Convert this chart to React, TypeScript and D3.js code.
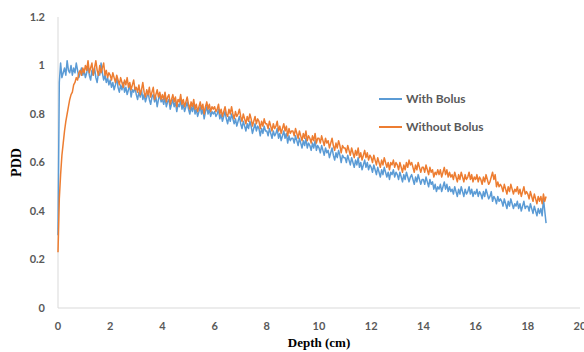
import * as d3 from "d3";

// depth step of the sampled curves (cm)
const depthStep = 0.05;

// one row per cm of depth
const withBolus = [
  0.30, 0.93, 1.01, 0.95, 0.97, 0.99, 0.96, 1.02, 0.98, 0.97, 1.00, 0.96, 0.99, 0.97, 1.01, 0.98, 0.95, 0.97, 0.99, 0.96,
  0.98, 0.95, 0.97, 1.00, 0.96, 0.94, 0.98, 0.96, 0.99, 0.95, 0.93, 0.97, 0.96, 1.01, 0.97, 0.94, 0.96, 0.93, 0.95, 0.92,
  0.94, 0.91, 0.93, 0.90, 0.92, 0.95, 0.91, 0.89, 0.92, 0.90, 0.93, 0.89, 0.91, 0.88, 0.90, 0.92, 0.87, 0.90, 0.89, 0.91,
  0.88, 0.86, 0.89, 0.87, 0.90, 0.86, 0.88, 0.85, 0.87, 0.89, 0.86, 0.84, 0.87, 0.88, 0.85, 0.87, 0.83, 0.86, 0.88, 0.85,
  0.86, 0.84, 0.87, 0.83, 0.85, 0.86, 0.82, 0.84, 0.86, 0.83, 0.85, 0.81, 0.84, 0.83, 0.86, 0.82, 0.84, 0.81, 0.83, 0.85,
  0.82, 0.80, 0.83, 0.81, 0.84, 0.80, 0.82, 0.79, 0.81, 0.83, 0.80, 0.82, 0.78, 0.81, 0.83, 0.80, 0.82, 0.79, 0.81, 0.80,
  0.81, 0.79, 0.80, 0.82, 0.78, 0.80, 0.77, 0.79, 0.81, 0.78, 0.76, 0.79, 0.77, 0.80, 0.78, 0.76, 0.78, 0.75, 0.77, 0.79,
  0.76, 0.74, 0.77, 0.75, 0.73, 0.76, 0.74, 0.77, 0.75, 0.72, 0.74, 0.76, 0.73, 0.75, 0.74, 0.71, 0.74, 0.72, 0.75, 0.73,
  0.73, 0.71, 0.74, 0.72, 0.70, 0.73, 0.71, 0.72, 0.74, 0.70, 0.72, 0.69, 0.71, 0.73, 0.70, 0.72, 0.68, 0.71, 0.69, 0.70,
  0.70, 0.68, 0.71, 0.69, 0.67, 0.70, 0.68, 0.66, 0.69, 0.67, 0.70, 0.66, 0.68, 0.67, 0.65, 0.68, 0.66, 0.69, 0.65, 0.67,
  0.66, 0.64, 0.67, 0.65, 0.63, 0.66, 0.64, 0.65, 0.62, 0.64, 0.66, 0.63, 0.61, 0.64, 0.62, 0.65, 0.63, 0.60, 0.63, 0.62,
  0.62, 0.60, 0.63, 0.61, 0.59, 0.62, 0.60, 0.58, 0.61, 0.59, 0.62, 0.58, 0.60, 0.57, 0.59, 0.61, 0.58, 0.60, 0.57, 0.59,
  0.58, 0.56, 0.59, 0.57, 0.55, 0.58, 0.56, 0.54, 0.57, 0.55, 0.58, 0.56, 0.54, 0.56, 0.53, 0.56, 0.55, 0.57, 0.54, 0.56,
  0.55, 0.53, 0.56, 0.54, 0.52, 0.55, 0.53, 0.56, 0.54, 0.52, 0.54, 0.55, 0.53, 0.51, 0.54, 0.52, 0.55, 0.53, 0.51, 0.53,
  0.53, 0.51, 0.54, 0.52, 0.50, 0.53, 0.51, 0.52, 0.49, 0.51, 0.48, 0.50, 0.49, 0.51, 0.48, 0.50, 0.52, 0.49, 0.51, 0.48,
  0.50, 0.48, 0.49, 0.47, 0.50, 0.48, 0.46, 0.49, 0.47, 0.50, 0.48, 0.46, 0.49, 0.47, 0.48, 0.50, 0.47, 0.49, 0.46, 0.48,
  0.47, 0.49, 0.46, 0.48, 0.47, 0.45, 0.48, 0.46, 0.49, 0.47, 0.45, 0.46, 0.48, 0.44, 0.46, 0.45, 0.43, 0.46, 0.44, 0.45,
  0.44, 0.42, 0.45, 0.43, 0.41, 0.44, 0.42, 0.45, 0.43, 0.41, 0.43, 0.42, 0.44, 0.41, 0.43, 0.40, 0.42, 0.44, 0.41, 0.42,
  0.42, 0.40, 0.43, 0.41, 0.39, 0.42, 0.40, 0.38, 0.41, 0.39, 0.41, 0.38, 0.45, 0.40, 0.35,
];

const withoutBolus = [
  0.23, 0.45, 0.55, 0.63, 0.68, 0.73, 0.77, 0.80, 0.83, 0.86, 0.88, 0.89, 0.92, 0.93, 0.95, 0.94, 0.97, 0.98, 0.96, 0.99,
  0.97, 1.00, 0.98, 1.02, 0.97, 0.99, 1.01, 0.96, 0.99, 1.02, 0.98, 0.96, 1.00, 0.97, 0.99, 1.01, 0.96, 0.98, 0.95, 0.97,
  0.96, 0.94, 0.97, 0.95, 0.93, 0.96, 0.94, 0.92, 0.95, 0.93, 0.91, 0.94, 0.92, 0.95, 0.91, 0.93, 0.90, 0.92, 0.94, 0.90,
  0.91, 0.89, 0.92, 0.88, 0.90, 0.93, 0.89, 0.87, 0.90, 0.88, 0.91, 0.87, 0.89, 0.91, 0.86, 0.88, 0.90, 0.87, 0.89, 0.86,
  0.88, 0.86, 0.89, 0.85, 0.87, 0.88, 0.84, 0.86, 0.88, 0.85, 0.87, 0.83, 0.86, 0.85, 0.88, 0.84, 0.86, 0.83, 0.85, 0.87,
  0.84, 0.82, 0.85, 0.83, 0.86, 0.82, 0.84, 0.81, 0.83, 0.85, 0.82, 0.84, 0.80, 0.83, 0.85, 0.82, 0.84, 0.81, 0.83, 0.82,
  0.83, 0.81, 0.82, 0.84, 0.80, 0.82, 0.79, 0.81, 0.83, 0.80, 0.79, 0.82, 0.80, 0.83, 0.80, 0.78, 0.81, 0.79, 0.80, 0.82,
  0.79, 0.77, 0.80, 0.78, 0.76, 0.79, 0.77, 0.80, 0.78, 0.75, 0.77, 0.79, 0.76, 0.78, 0.77, 0.74, 0.77, 0.75, 0.78, 0.76,
  0.76, 0.74, 0.77, 0.75, 0.73, 0.76, 0.74, 0.75, 0.77, 0.73, 0.75, 0.72, 0.74, 0.76, 0.73, 0.75, 0.71, 0.74, 0.72, 0.73,
  0.73, 0.71, 0.74, 0.72, 0.70, 0.73, 0.71, 0.69, 0.72, 0.70, 0.73, 0.69, 0.71, 0.70, 0.68, 0.71, 0.69, 0.72, 0.68, 0.70,
  0.70, 0.68, 0.71, 0.69, 0.67, 0.70, 0.68, 0.69, 0.66, 0.68, 0.70, 0.67, 0.65, 0.68, 0.66, 0.69, 0.67, 0.64, 0.67, 0.66,
  0.66, 0.64, 0.67, 0.65, 0.63, 0.66, 0.64, 0.62, 0.65, 0.63, 0.66, 0.62, 0.64, 0.61, 0.63, 0.65, 0.62, 0.64, 0.61, 0.63,
  0.62, 0.60, 0.63, 0.61, 0.59, 0.62, 0.60, 0.58, 0.61, 0.59, 0.62, 0.60, 0.58, 0.60, 0.57, 0.60, 0.59, 0.61, 0.58, 0.60,
  0.59, 0.57, 0.60, 0.58, 0.56, 0.59, 0.57, 0.60, 0.58, 0.61, 0.59, 0.60, 0.58, 0.56, 0.59, 0.57, 0.60, 0.58, 0.56, 0.58,
  0.58, 0.56, 0.59, 0.57, 0.55, 0.58, 0.56, 0.57, 0.54, 0.56, 0.55, 0.57, 0.55, 0.57, 0.54, 0.56, 0.58, 0.55, 0.57, 0.54,
  0.56, 0.54, 0.55, 0.53, 0.56, 0.54, 0.52, 0.55, 0.53, 0.56, 0.54, 0.52, 0.55, 0.53, 0.54, 0.56, 0.53, 0.55, 0.52, 0.54,
  0.53, 0.55, 0.52, 0.54, 0.53, 0.51, 0.54, 0.52, 0.55, 0.53, 0.51, 0.52, 0.54, 0.56, 0.53, 0.55, 0.50, 0.52, 0.50, 0.51,
  0.50, 0.48, 0.51, 0.49, 0.47, 0.50, 0.48, 0.51, 0.49, 0.47, 0.49, 0.48, 0.50, 0.47, 0.49, 0.46, 0.48, 0.50, 0.47, 0.48,
  0.47, 0.45, 0.48, 0.46, 0.44, 0.47, 0.45, 0.43, 0.46, 0.44, 0.46, 0.43, 0.47, 0.44, 0.46,
];

const xTicks = [0, 2, 4, 6, 8, 10, 12, 14, 16, 18, 20];
const yTicks = [0, 0.2, 0.4, 0.6, 0.8, 1, 1.2];

const series = [
  { name: "With Bolus", values: withBolus, color: "#5B9BD5" },
  { name: "Without Bolus", values: withoutBolus, color: "#ED7D31" },
];

export default function App() {
  const width = 584;
  const height = 352;
  const margin = { top: 17, right: 4, bottom: 44, left: 58 };

  const x = d3.scaleLinear().domain([0, 20]).range([margin.left, width - margin.right]);
  const y = d3.scaleLinear().domain([0, 1.2]).range([height - margin.bottom, margin.top]);

  const line = d3
    .line<number>()
    .x((_, i) => x(i * depthStep))
    .y((d) => y(d));

  const tickFont = "Lato, 'Open Sans', sans-serif";
  const tickColor = "#595959";

  return (
    <svg
      width={width}
      height={height}
      style={{ position: "absolute", left: 0, top: 0, background: "#fff" }}
    >
      {/* axes lines */}
      <line x1={x(0)} x2={x(0)} y1={y(0)} y2={y(1.2)} stroke="#d9d9d9" />
      <line x1={x(0)} x2={x(20)} y1={y(0)} y2={y(0)} stroke="#d9d9d9" />

      {yTicks.map((t) => (
        <text
          key={t}
          x={x(0) - 13}
          y={y(t)}
          dy="0.35em"
          textAnchor="end"
          fontFamily={tickFont}
          fontWeight="bold"
          fontSize={11}
          fill={tickColor}
        >
          {t}
        </text>
      ))}
      {xTicks.map((t) => (
        <text
          key={t}
          x={x(t)}
          y={y(0) + 22}
          textAnchor="middle"
          fontFamily={tickFont}
          fontWeight="bold"
          fontSize={11}
          fill={tickColor}
        >
          {t}
        </text>
      ))}

      {series.map((s) => (
        <path
          key={s.name}
          d={line(s.values) ?? ""}
          fill="none"
          stroke={s.color}
          strokeWidth={1.5}
          strokeLinejoin="round"
        />
      ))}

      {/* axis titles */}
      <text
        transform={`translate(21,${(y(0) + y(1.2)) / 2}) rotate(-90)`}
        textAnchor="middle"
        fontFamily="'Liberation Serif', serif"
        fontWeight="bold"
        fontSize={14}
        fill="#000"
      >
        PDD
      </text>
      <text
        x={(x(0) + x(20)) / 2}
        y={347}
        textAnchor="middle"
        fontFamily="'Liberation Serif', serif"
        fontWeight="bold"
        fontSize={13}
        fill="#000"
      >
        Depth (cm)
      </text>

      {/* legend */}
      {series.map((s, i) => (
        <g key={s.name} transform={`translate(379,${99 + i * 28})`}>
          <line x1={0} x2={23} y1={0} y2={0} stroke={s.color} strokeWidth={2} />
          <text
            x={27}
            y={0}
            dy="0.35em"
            fontFamily={tickFont}
            fontWeight="bold"
            fontSize={12}
            fill={tickColor}
          >
            {s.name}
          </text>
        </g>
      ))}
    </svg>
  );
}
